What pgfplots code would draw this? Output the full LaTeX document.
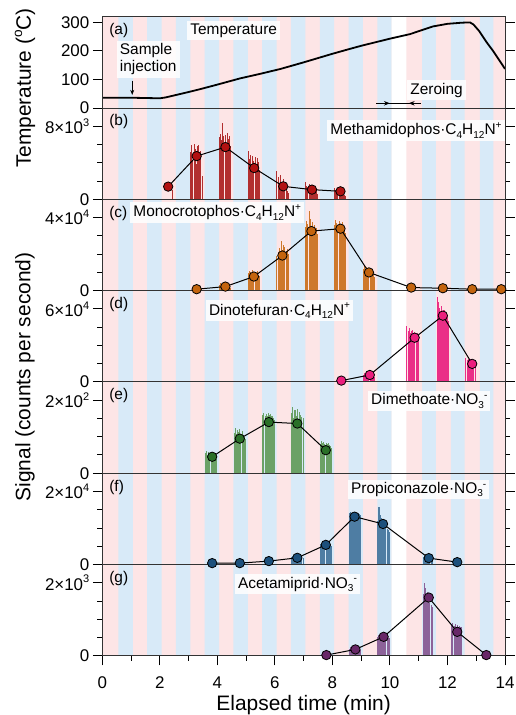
\documentclass[border=0pt]{standalone}
\usepackage{fontspec}
\setmainfont{Liberation Sans}
\usepackage{graphicx}
\usepackage{pgfplots}
\pgfplotsset{compat=1.18}
\usetikzlibrary{arrows.meta}

\definecolor{spink}{RGB}{253,229,230}
\definecolor{sblue}{RGB}{216,234,248}
\definecolor{cbbar}{RGB}{168,22,22}
\definecolor{cbmk}{RGB}{178,18,18}
\definecolor{ccbar}{RGB}{200,106,18}
\definecolor{ccmk}{RGB}{196,100,14}
\definecolor{cdbar}{RGB}{232,22,122}
\definecolor{cdmk}{RGB}{236,30,125}
\definecolor{cebar}{RGB}{92,152,82}
\definecolor{cemk}{RGB}{42,112,40}
\definecolor{cfbar}{RGB}{60,110,152}
\definecolor{cfmk}{RGB}{28,80,124}
\definecolor{cgbar}{RGB}{130,80,140}
\definecolor{cgmk}{RGB}{104,40,104}

\newcommand\sups[1]{\raisebox{0.42em}{\scalebox{0.65}{#1}}}
\newcommand\subs[1]{\raisebox{-0.22em}{\scalebox{0.65}{#1}}}

\newcommand\stripes[1]{%
\addplot[const plot, fill=sblue, draw=none, forget plot] coordinates {(0,0)(0.56,#1)(1.06,0)(1.56,#1)(2.06,0)(2.56,#1)(3.06,0)(3.56,#1)(4.06,0)(4.56,#1)(5.06,0)(5.56,#1)(6.06,0)(6.56,#1)(7.06,0)(7.56,#1)(8.06,0)(8.56,#1)(9.06,0)(9.56,#1)(10.06,0)(11.12,#1)(11.6,0)(12.12,#1)(12.6,0)(13.13,#1)(13.6,0)(14,0)} \closedcycle;
\addplot[const plot, fill=white, draw=none, forget plot] coordinates {(0,0)(10.06,#1)(10.57,0)(14,0)} \closedcycle;
}

\pgfplotsset{
  panel/.style={
    width=402.7bp, height=91.3bp, scale only axis,
    xmin=0, xmax=14, ymin=0,
    axis on top,
    axis background/.style={fill=spink},
    xtick=\empty,
    tick align=outside,
    major tick length=9.5bp, minor tick length=5bp,
    every tick/.style={black, line width=0.9bp},
    axis line style={black!80, line width=1bp},
    tick label style={font=\fontsize{17}{17}\selectfont},
    /pgf/number format/assume math mode=true,
    scaled y ticks=false,
    anchor=south west,
  },
  bars/.style={ycomb, line width=1.05bp, opacity=0.88, forget plot},
  mk/.style={black, line width=1bp, mark=*, mark size=4.7bp, mark options={fill=#1, draw=black, line width=0.8bp}},
}
\tikzset{
  box/.style={fill=white, fill opacity=0.85, text opacity=1, inner xsep=3bp, inner ysep=2.5bp, font=\fontsize{15.5}{17.5}\selectfont},
  plab/.style={anchor=west, inner sep=0pt, font=\fontsize{15.5}{17.5}\selectfont},
}

\begin{document}
\begin{tikzpicture}
\useasboundingbox (-102.3bp,-607bp) rectangle (413.7bp,108bp);

% (g)
\begin{axis}[panel, at={(0,-547.8bp)}, ymax=2500, ytick={0,2000}, minor ytick={500,1000,1500}, yticklabels={0,2×10\sups{3}},
  xtick={0,2,4,6,8,10,12,14}, minor xtick={1,3,5,7,9,11,13},
  xticklabel style={yshift=-8bp},
  xlabel={Elapsed time (min)}, xlabel style={font=\fontsize{21}{21}\selectfont}]
\stripes{2500}
\addplot[bars, cgbar] coordinates {
(8.58,200)(8.62,230)(8.66,210)(8.70,220)(8.74,200)(8.78,225)(8.82,210)(8.86,190)(8.90,200)(8.94,180)(8.98,170)
(9.58,520)(9.62,565)(9.66,540)(9.70,500)(9.74,560)(9.78,530)(9.82,480)(9.86,550)(9.90,510)(9.94,490)(9.98,475)
(11.15,1700)(11.19,1980)(11.23,1850)(11.27,1600)(11.31,1750)(11.35,1500)(11.39,1450)(11.43,1400)(11.47,1350)
(12.15,850)(12.19,885)(12.23,820)(12.27,860)(12.31,800)(12.35,840)(12.39,790)(12.43,810)(12.47,780)};
\addplot[mk=cgmk] coordinates {(7.79,20)(8.80,175)(9.78,520)(11.35,1595)(12.34,656)(13.35,20)};
\node[plab] at (rel axis cs:0.017,0.847) {(g)};
\node[box, anchor=west] at (axis cs:4.61,1957) {Acetamiprid·NO\subs{3}\sups{-}};
\end{axis}

% (f)
\begin{axis}[panel, at={(0,-456.5bp)}, ymax=25000, ytick={0,20000}, minor ytick={5000,10000,15000}, yticklabels={0,2×10\sups{4}}]
\stripes{25000}
\addplot[bars, cfbar] coordinates {
(6.58,2000)(6.62,2300)(6.66,2100)(6.70,2200)(6.74,2000)(6.78,2250)(6.82,2100)(6.86,1900)(6.90,2000)(6.94,1800)(6.98,1700)
(7.58,5500)(7.62,5650)(7.66,5400)(7.70,5600)(7.74,5500)(7.78,5650)(7.82,5450)(7.86,5550)(7.90,5400)(7.94,5300)(7.98,5200)
(8.58,14000)(8.62,14500)(8.66,13800)(8.70,14300)(8.74,14100)(8.78,14400)(8.82,13900)(8.86,14200)(8.90,14000)(8.94,13800)(8.98,13600)
(9.58,12000)(9.62,15800)(9.66,13500)(9.70,12800)(9.74,12500)(9.78,11000)(9.82,10800)(9.86,10500)(9.90,9800)(9.94,9500)(9.98,9000)
(11.15,2100)(11.19,2200)(11.23,1900)(11.27,2000)(11.31,1800)(11.35,1900)(11.39,1700)(11.43,1600)(11.47,1500)};
\addplot[mk=cfmk] coordinates {(3.82,380)(4.78,380)(5.79,930)(6.78,1830)(7.77,5380)(8.77,13100)(9.76,11100)(11.35,1750)(12.34,650)};
\node[plab] at (rel axis cs:0.017,0.847) {(f)};
\node[box, anchor=east] at (axis cs:13.46,20500) {Propiconazole·NO\subs{3}\sups{-}};
\end{axis}

% (e)
\begin{axis}[panel, at={(0,-365.2bp)}, ymax=250, ytick={0,200}, minor ytick={50,100,150}, yticklabels={0,2×10\sups{2}}]
\stripes{250}
\addplot[bars, cebar] coordinates {
(3.58,55)(3.62,60)(3.66,50)(3.70,58)(3.74,47)(3.78,52)(3.82,56)(3.86,48)(3.90,50)(3.94,45)(3.98,40)
(4.58,110)(4.62,125)(4.66,106)(4.70,118)(4.74,112)(4.78,120)(4.82,108)(4.86,115)(4.90,105)(4.94,100)(4.98,95)
(5.58,160)(5.62,166)(5.66,157)(5.70,163)(5.74,158)(5.78,165)(5.82,160)(5.86,162)(5.90,157)(5.94,150)(5.98,145)
(6.58,165)(6.62,180)(6.66,150)(6.70,172)(6.74,158)(6.78,176)(6.82,148)(6.86,168)(6.90,160)(6.94,155)(6.98,150)
(7.58,80)(7.62,88)(7.66,82)(7.70,86)(7.74,79)(7.78,84)(7.82,80)(7.86,83)(7.90,78)(7.94,75)(7.98,70)};
\addplot[mk=cemk] coordinates {(3.82,45)(4.78,94.6)(5.79,140)(6.78,136)(7.77,63)};
\node[plab] at (rel axis cs:0.017,0.847) {(e)};
\node[box, anchor=east] at (axis cs:13.5,198) {Dimethoate·NO\subs{3}\sups{-}};
\end{axis}

% (d)
\begin{axis}[panel, at={(0,-273.9bp)}, ymax=75000, ytick={0,60000}, minor ytick={15000,30000,45000}, yticklabels={0,6×10\sups{4}}]
\stripes{75000}
\addplot[bars, cdbar] coordinates {
(9.07,6000)(9.11,7100)(9.15,6500)(9.19,5800)(9.23,6800)(9.27,6200)(9.31,5500)(9.35,6000)(9.39,5000)(9.43,4500)(9.47,4000)
(10.59,46000)(10.63,42000)(10.67,44000)(10.71,40000)(10.75,41500)(10.79,43000)(10.83,39000)(10.87,41000)(10.91,38000)(10.95,40000)(10.99,37000)
(11.64,70000)(11.68,66000)(11.72,61000)(11.76,58000)(11.80,62000)(11.84,57000)(11.88,59000)(11.92,55000)(11.96,57000)(12.00,53000)(12.04,50000)
(12.64,19700)(12.68,18000)(12.72,19000)(12.76,17500)(12.80,18500)(12.84,17000)(12.88,16600)(12.92,16000)(12.96,15000)};
\addplot[mk=cdmk] coordinates {(8.31,1070)(9.30,5700)(10.86,36300)(11.84,54400)(12.86,14800)};
\node[plab] at (rel axis cs:0.017,0.847) {(d)};
\node[box, anchor=west] at (axis cs:3.6,58500) {Dinotefuran·C\subs{4}H\subs{12}N\sups{+}};
\end{axis}

% (c)
\begin{axis}[panel, at={(0,-182.6bp)}, ymax=50000, ytick={0,40000}, minor ytick={10000,20000,30000}, yticklabels={0,4×10\sups{4}}]
\stripes{50000}
\addplot[bars, ccbar] coordinates {
(4.07,3000)(4.11,4100)(4.15,2500)(4.19,3500)(4.23,2800)(4.27,3200)(4.31,2200)(4.35,3000)(4.39,2600)(4.43,2000)(4.47,1500)
(5.07,9500)(5.11,11000)(5.15,10400)(5.19,8700)(5.23,11400)(5.27,9800)(5.31,10200)(5.35,9000)(5.39,10600)(5.43,8800)(5.47,8000)
(6.07,19000)(6.11,21000)(6.15,23500)(6.19,20500)(6.23,27000)(6.27,22000)(6.31,25000)(6.35,24000)(6.39,21500)(6.43,23000)(6.47,20000)
(7.07,35000)(7.11,38000)(7.15,36500)(7.19,43600)(7.23,39000)(7.27,34000)(7.31,37500)(7.35,33500)(7.39,36000)(7.43,34500)(7.47,31000)
(8.07,36000)(8.11,38700)(8.15,37000)(8.19,35500)(8.23,38000)(8.27,36500)(8.31,34000)(8.35,37500)(8.39,35000)(8.43,33000)(8.47,31700)
(9.07,12000)(9.11,14200)(9.15,11500)(9.19,13000)(9.23,10500)(9.27,12500)(9.31,9500)(9.35,11000)(9.39,8700)(9.43,9000)(9.47,7700)};
\addplot[mk=ccmk] coordinates {(3.28,770)(4.28,2200)(5.27,7700)(6.26,19200)(7.27,32600)(8.28,33900)(9.27,9950)(10.74,1660)(11.84,1300)(12.86,770)(13.87,770)};
\node[plab] at (rel axis cs:0.017,0.847) {(c)};
\node[box, anchor=west] at (axis cs:0.97,42900) {Monocrotophos·C\subs{4}H\subs{12}N\sups{+}};
\end{axis}

% (b)
\begin{axis}[panel, at={(0,-91.3bp)}, ymax=10000, ytick={0,8000}, minor ytick={2000,4000,6000}, yticklabels={0,8×10\sups{3}}]
\stripes{10000}
\addplot[bars, cbbar] coordinates {(2.43,1000)
(3.07,5200)(3.11,5900)(3.15,4300)(3.19,6100)(3.23,5500)(3.27,3900)(3.31,5800)(3.35,6000)(3.39,4700)(3.43,5300)(3.47,2500)
(4.07,6800)(4.11,7100)(4.15,6500)(4.19,8400)(4.23,6900)(4.27,7000)(4.31,6200)(4.35,7300)(4.39,6600)(4.43,6900)(4.47,5800)
(5.07,5300)(5.11,4400)(5.15,4900)(5.19,3900)(5.23,4700)(5.27,4200)(5.31,4600)(5.35,3800)(5.39,4500)(5.43,4100)(5.47,3200)
(6.07,3100)(6.11,2400)(6.15,1800)(6.19,2700)(6.23,1900)(6.27,1400)(6.31,2200)(6.35,1600)(6.39,1200)(6.43,900)(6.47,700)
(7.07,1900)(7.11,1500)(7.15,1300)(7.19,1700)(7.23,1200)(7.27,1400)(7.31,1100)(7.35,1300)(7.39,900)(7.43,1000)(7.47,600)
(8.07,1200)(8.11,1000)(8.15,900)(8.19,1100)(8.23,800)(8.27,950)(8.31,700)(8.35,850)(8.39,600)(8.43,500)(8.47,400)};
\addplot[mk=cbmk] coordinates {(2.29,1390)(3.28,4730)(4.28,5720)(5.28,3420)(6.29,1420)(7.29,1060)(8.28,874)};
\node[plab] at (rel axis cs:0.017,0.847) {(b)};
\node[box, anchor=east] at (axis cs:13.99,7540) {Methamidophos·C\subs{4}H\subs{12}N\sups{+}};
\end{axis}

% (a) temperature
\begin{axis}[panel, at={(0,0)}, ymax=320, ytick={0,100,200,300}]
\stripes{320}
\addplot[black, line width=1.8bp] coordinates {(0,36)(1.0,36)(2.0,34)(2.2,37)(3.0,56)(3.4,66)(4.0,82)(4.8,104)(5.5,120)(6.2,137)(7.0,160)(8.0,190)(8.6,207)(9.0,218)(10.0,243)(10.7,259)(11.2,276)(11.5,286)(12.0,295)(12.5,299)(12.78,300)(12.9,293)(13.1,270)(13.35,232)(13.6,198)(13.85,160)(14.0,137)};
\node[plab] at (rel axis cs:0.017,0.847) {(a)};
\node[box, anchor=west] at (axis cs:2.95,271) {Temperature};
\node[box, anchor=west, align=left] at (axis cs:0.5,171) {Sample\\injection};
\draw[-{Stealth[length=5bp,width=4bp]}, line width=0.8bp] (axis cs:1.04,96) -- (axis cs:1.04,46);
\node[box, anchor=west] at (axis cs:10.6,63) {Zeroing};
\draw[line width=0.9bp] (axis cs:9.53,16.5) -- (axis cs:11.09,16.5);
\draw[-{Stealth[length=6bp,width=4.5bp]}, line width=0.9bp] (axis cs:9.6,16.5) -- (axis cs:10.0,16.5);
\draw[-{Stealth[length=6bp,width=4.5bp]}, line width=0.9bp] (axis cs:11.05,16.5) -- (axis cs:10.65,16.5);
\end{axis}

\node[rotate=90, font=\fontsize{21}{21}\selectfont] at (-77.3bp,20bp) {Temperature (\sups{o}C)};
\node[rotate=90, font=\fontsize{21}{21}\selectfont] at (-77.3bp,-269bp) {Signal (counts per second)};
\end{tikzpicture}
\end{document}
